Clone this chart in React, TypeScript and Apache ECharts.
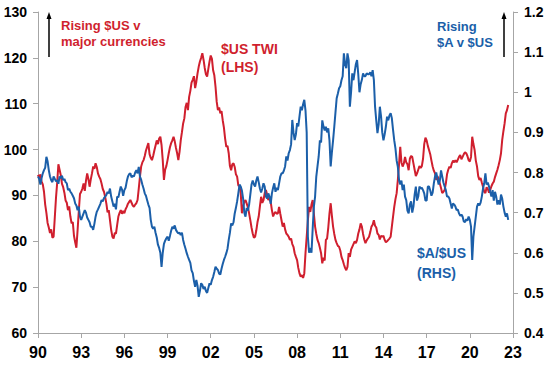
import React, { useEffect, useRef } from "react";
import * as echarts from "echarts";

const START_YEAR = 1990;
const X_TICKS = { min: 1990, max: 2023, step: 3 };
const LEFT_TICKS = { min: 60, max: 130, step: 10 };
const RIGHT_TICKS = { min: 0.4, max: 1.2, step: 0.1 };

// $US TWI (LHS), monthly from Jan 1990
const usTwi = [
  94.5, 93.8, 94.6, 93.0, 92.4, 90.8, 88.0, 86.2, 84.0, 83.0, 81.8, 82.6,
  80.8, 81.0, 85.2, 89.5, 92.8, 96.8, 95.6, 94.4, 92.5, 91.8, 90.6, 88.9,
  88.4, 86.8, 87.6, 85.4, 83.9, 84.2, 81.2, 79.8, 78.6, 82.4, 86.5, 90.3,
  90.8, 91.5, 92.6, 91.0, 93.2, 94.8, 93.6, 91.9, 93.5, 94.8, 96.3, 95.8,
  97.0, 96.2, 94.8, 94.1, 93.6, 92.6, 91.4, 90.8, 89.7, 88.2, 86.3, 86.8,
  84.6, 82.5, 81.0, 80.6, 81.8, 81.7, 83.6, 85.4, 86.2, 86.8, 86.0, 86.6,
  86.1, 87.0, 87.5, 88.2, 88.6, 89.0, 88.4, 87.8, 87.5, 88.0, 88.3, 89.0,
  91.5, 94.1, 96.3, 97.2, 97.7, 98.6, 99.8, 100.6, 101.4, 99.0, 98.2, 97.7,
  98.6, 99.8, 100.9, 102.0, 101.2, 102.4, 102.8, 101.0, 97.7, 93.4, 95.6, 96.4,
  97.7, 99.2, 100.5, 101.4, 102.0, 102.8, 101.8, 100.4, 99.2, 97.7, 99.5, 102.0,
  103.8, 105.7, 106.8, 109.3, 110.2, 108.6, 111.5, 112.8, 114.6, 115.2, 116.0, 113.4,
  114.8, 116.6, 118.1, 119.2, 120.0, 121.0, 119.6, 117.8, 116.4, 115.9, 117.6, 119.2,
  120.5, 119.8, 117.3, 116.2, 113.7, 110.4, 108.6, 109.2, 107.9, 108.4, 106.4, 104.8,
  102.4, 100.6, 100.8, 99.2, 96.4, 95.5, 96.8, 97.0, 96.2, 94.6, 94.1, 92.2,
  92.0, 90.5, 86.1, 87.6, 88.6, 89.0, 88.2, 87.4, 86.1, 84.6, 83.0, 81.7,
  80.8, 81.0, 82.4, 84.2, 85.4, 87.6, 89.7, 88.4, 89.0, 90.5, 91.2, 90.2,
  89.0, 89.4, 88.6, 86.8, 85.4, 86.1, 86.4, 86.0, 86.1, 87.5, 86.0, 84.6,
  83.2, 84.0, 82.6, 81.7, 81.4, 81.0, 80.3, 80.6, 79.4, 78.8, 77.4, 76.6,
  75.9, 74.2, 73.0, 72.3, 72.6, 72.0, 73.0, 77.4, 81.0, 84.6, 87.5, 86.4,
  88.0, 89.0, 86.0, 83.2, 81.6, 80.3, 79.6, 78.6, 77.4, 75.2, 76.4, 75.8,
  80.3, 80.6, 83.0, 86.1, 88.3, 85.6, 83.2, 81.6, 80.3, 79.6, 79.0, 78.8,
  78.0, 76.6, 75.9, 75.0, 74.2, 73.7, 74.4, 77.4, 76.6, 78.2, 78.8, 79.4,
  80.0, 79.6, 80.3, 81.7, 82.6, 83.9, 83.2, 81.6, 80.4, 79.6, 80.2, 80.6,
  81.0, 82.0, 83.2, 83.6, 84.6, 83.4, 83.0, 81.7, 81.4, 80.4, 81.2, 81.0,
  81.2, 80.3, 79.8, 80.0, 80.3, 80.6, 81.0, 83.2, 85.4, 87.5, 89.2, 90.5,
  93.4, 96.8, 100.6, 97.2, 96.3, 97.0, 98.4, 97.2, 96.8, 95.5, 98.0, 98.6,
  98.4, 97.0, 95.6, 94.2, 94.8, 95.6, 96.4, 96.0, 96.4, 98.0, 101.2, 102.6,
  102.0, 100.8, 99.9, 99.0, 97.6, 96.3, 95.4, 94.8, 93.4, 94.2, 93.6, 92.6,
  91.6, 90.5, 90.8, 91.2, 92.6, 94.6, 95.6, 96.3, 96.0, 97.0, 97.6, 97.2,
  97.7, 97.2, 97.8, 98.4, 98.8, 97.9, 98.4, 99.0, 99.4, 99.2, 98.6, 97.7,
  97.4, 98.4, 102.8, 101.2, 99.9, 97.6, 96.3, 94.2, 93.4, 93.8, 92.8, 91.9,
  90.8, 90.5, 91.8, 91.4, 90.6, 91.2, 92.0, 92.6, 93.0, 94.0, 94.8, 95.6,
  96.6, 97.7, 99.2, 102.1, 104.0, 105.7, 107.9, 108.6, 109.7,
];

// $A/$US (RHS), monthly from Jan 1990
const audUsd = [
  0.790, 0.784, 0.770, 0.786, 0.798, 0.806, 0.812, 0.839, 0.828, 0.806, 0.790, 0.781,
  0.776, 0.790, 0.784, 0.778, 0.781, 0.772, 0.790, 0.786, 0.792, 0.781, 0.784, 0.776,
  0.773, 0.756, 0.760, 0.752, 0.748, 0.742, 0.736, 0.723, 0.718, 0.706, 0.715, 0.690,
  0.682, 0.690, 0.698, 0.706, 0.700, 0.688, 0.682, 0.676, 0.665, 0.665, 0.657, 0.672,
  0.690, 0.702, 0.708, 0.715, 0.722, 0.731, 0.728, 0.736, 0.740, 0.744, 0.752, 0.748,
  0.760, 0.740, 0.728, 0.715, 0.722, 0.708, 0.740, 0.738, 0.752, 0.765, 0.758, 0.742,
  0.756, 0.762, 0.778, 0.790, 0.796, 0.798, 0.788, 0.792, 0.790, 0.800, 0.806, 0.798,
  0.814, 0.790, 0.782, 0.770, 0.760, 0.748, 0.742, 0.731, 0.720, 0.712, 0.682, 0.665,
  0.660, 0.665, 0.650, 0.638, 0.620, 0.612, 0.600, 0.565, 0.600, 0.622, 0.630, 0.636,
  0.640, 0.630, 0.642, 0.655, 0.665, 0.660, 0.668, 0.657, 0.652, 0.648, 0.650, 0.644,
  0.650, 0.632, 0.620, 0.610, 0.599, 0.590, 0.582, 0.575, 0.556, 0.549, 0.530, 0.515,
  0.532, 0.518, 0.490, 0.505, 0.524, 0.520, 0.510, 0.515, 0.505, 0.500, 0.512, 0.524,
  0.520, 0.532, 0.540, 0.552, 0.565, 0.560, 0.557, 0.548, 0.546, 0.560, 0.572, 0.582,
  0.590, 0.599, 0.610, 0.632, 0.650, 0.673, 0.668, 0.676, 0.698, 0.712, 0.728, 0.748,
  0.770, 0.765, 0.755, 0.735, 0.700, 0.690, 0.712, 0.705, 0.720, 0.745, 0.770, 0.780,
  0.770, 0.765, 0.780, 0.790, 0.776, 0.760, 0.750, 0.760, 0.773, 0.765, 0.740, 0.735,
  0.748, 0.740, 0.722, 0.748, 0.762, 0.773, 0.752, 0.762, 0.756, 0.773, 0.790, 0.798,
  0.798, 0.805, 0.815, 0.840, 0.830, 0.848, 0.856, 0.870, 0.931, 0.900, 0.881, 0.895,
  0.923, 0.915, 0.940, 0.964, 0.955, 0.970, 0.981, 0.955, 0.900, 0.640, 0.600, 0.612,
  0.600, 0.660, 0.715, 0.740, 0.790, 0.815, 0.840, 0.880, 0.875, 0.930, 0.915, 0.905,
  0.914, 0.900, 0.910, 0.880, 0.815, 0.850, 0.880, 0.914, 0.950, 0.985, 0.997, 1.010,
  1.015, 1.030, 1.040, 1.097, 1.070, 1.060, 1.097, 1.080, 0.964, 1.000, 1.047, 1.030,
  1.050, 1.070, 1.080, 1.045, 1.000, 1.020, 1.031, 1.047, 1.040, 1.040, 1.047, 1.045,
  1.045, 1.050, 1.040, 1.055, 1.031, 0.964, 0.930, 0.898, 0.920, 0.964, 0.940, 0.900,
  0.880, 0.895, 0.914, 0.939, 0.930, 0.942, 0.948, 0.935, 0.906, 0.880, 0.860, 0.830,
  0.814, 0.781, 0.770, 0.780, 0.756, 0.770, 0.740, 0.731, 0.705, 0.698, 0.720, 0.728,
  0.700, 0.715, 0.745, 0.765, 0.730, 0.740, 0.765, 0.760, 0.762, 0.756, 0.748, 0.730,
  0.730, 0.765, 0.765, 0.755, 0.742, 0.750, 0.773, 0.790, 0.800, 0.785, 0.770, 0.780,
  0.805, 0.790, 0.775, 0.765, 0.756, 0.740, 0.740, 0.735, 0.723, 0.710, 0.723, 0.720,
  0.715, 0.706, 0.708, 0.698, 0.692, 0.695, 0.690, 0.678, 0.676, 0.684, 0.680, 0.690,
  0.682, 0.665, 0.582, 0.640, 0.665, 0.690, 0.715, 0.723, 0.718, 0.725, 0.740, 0.760,
  0.773, 0.798, 0.770, 0.775, 0.765, 0.752, 0.740, 0.756, 0.730, 0.752, 0.740, 0.720,
  0.731, 0.720, 0.745, 0.735, 0.715, 0.700, 0.690, 0.698, 0.682,
];

const RED = "#d01f2e";
const BLUE = "#1b5fa9";
const FONT = '"Liberation Sans", Arial, sans-serif';

const toPairs = (arr: number[]) => arr.map((v, i) => [START_YEAR + i / 12, v]);

export default function App() {
  const ref = useRef<HTMLDivElement>(null);
  useEffect(() => {
    if (!ref.current) return;
    const chart = echarts.init(ref.current, null, { renderer: "svg" });
    const axisLine = { show: true, lineStyle: { color: "#a6a6a6", width: 1 } };
    const axisTick = { show: true, inside: false, length: 5, lineStyle: { color: "#a6a6a6" } };
    chart.setOption({
      animation: false,
      backgroundColor: "#ffffff",
      grid: { left: 38, right: 35, top: 12, bottom: 33, containLabel: false },
      xAxis: {
        type: "value",
        min: X_TICKS.min,
        max: X_TICKS.max,
        interval: X_TICKS.step,
        axisLine,
        axisTick,
        splitLine: { show: false },
        axisLabel: {
          margin: 11,
          color: "#000",
          fontSize: 16,
          fontWeight: "bold",
          fontFamily: FONT,
          formatter: (v: number) => String(Math.round(v) % 100).padStart(2, "0"),
        },
      },
      yAxis: [
        {
          type: "value",
          position: "left",
          min: LEFT_TICKS.min,
          max: LEFT_TICKS.max,
          interval: LEFT_TICKS.step,
          axisLine,
          axisTick,
          splitLine: { show: false },
          axisLabel: { margin: 11, color: "#000", fontSize: 14, fontWeight: "bold", fontFamily: FONT },
        },
        {
          type: "value",
          position: "right",
          min: RIGHT_TICKS.min,
          max: RIGHT_TICKS.max,
          interval: RIGHT_TICKS.step,
          axisLine,
          axisTick,
          splitLine: { show: false },
          axisLabel: {
            margin: 11,
            color: "#000",
            fontSize: 14,
            fontWeight: "bold",
            fontFamily: FONT,
            formatter: (v: number) => String(Math.round(v * 10) / 10),
          },
        },
      ],
      series: [
        {
          name: "$US TWI (LHS)",
          type: "line",
          yAxisIndex: 0,
          data: toPairs(usTwi),
          showSymbol: false,
          symbol: "none",
          lineStyle: { color: RED, width: 2 },
          z: 2,
        },
        {
          name: "$A/$US (RHS)",
          type: "line",
          yAxisIndex: 1,
          data: toPairs(audUsd),
          showSymbol: false,
          symbol: "none",
          lineStyle: { color: BLUE, width: 2 },
          z: 3,
        },
      ],
      graphic: [
        { type: "line", shape: { x1: 49, y1: 57, x2: 49, y2: 18 }, style: { stroke: "#000", lineWidth: 1.5 } },
        { type: "polygon", shape: { points: [[49, 12], [46.5, 19], [51.5, 19]] }, style: { fill: "#000" } },
        { type: "line", shape: { x1: 504, y1: 57, x2: 504, y2: 18 }, style: { stroke: "#000", lineWidth: 1.5 } },
        { type: "polygon", shape: { points: [[504, 12], [501.5, 19], [506.5, 19]] }, style: { fill: "#000" } },
        {
          type: "text", x: 61, y: 17,
          style: { text: "Rising $US v\nmajor currencies", fill: RED, font: `bold 13px ${FONT}`, lineHeight: 16.5, align: "left", verticalAlign: "top" },
        },
        {
          type: "text", x: 221, y: 40,
          style: { text: "$US TWI\n(LHS)", fill: RED, font: `bold 14px ${FONT}`, lineHeight: 18, align: "left", verticalAlign: "top" },
        },
        {
          type: "text", x: 437, y: 18,
          style: { text: "Rising\n$A v $US", fill: BLUE, font: `bold 13px ${FONT}`, lineHeight: 16.5, align: "left", verticalAlign: "top" },
        },
        {
          type: "text", x: 417, y: 243,
          style: { text: "$A/$US\n(RHS)", fill: BLUE, font: `bold 14px ${FONT}`, lineHeight: 20, align: "left", verticalAlign: "top" },
        },
      ],
    });
    return () => chart.dispose();
  }, []);
  return <div ref={ref} style={{ position: "fixed", left: 0, top: 0, width: 548, height: 366 }} />;
}
